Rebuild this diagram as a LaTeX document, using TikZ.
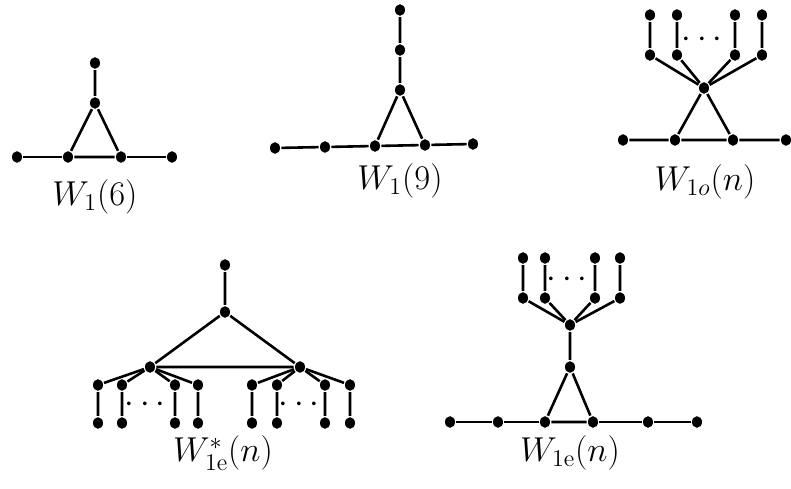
\documentclass[tikz,border=0pt]{standalone}
\usepackage{amsmath,amssymb}
\usetikzlibrary{positioning,calc}

\tikzset{
  vtx/.style={ellipse,fill=black,inner sep=0pt,minimum width=5pt,minimum height=5.8pt},
  lbl/.style={font=\fontsize{16.5}{19}\selectfont},
}
\usetikzlibrary{shapes.geometric}

\begin{document}
\begin{tikzpicture}[x=0.5pt,y=-0.5pt,line width=1.3pt]
    \useasboundingbox (0,0) rectangle (791,488);

    % W_1(6)
    \node[vtx] (a1) at (95,63) {};
    \node[vtx] (a2) at (95,103) {};
    \foreach \i/\x in {3/17,4/68,5/121,6/172}
        \node[vtx] (a\i) at (\x,157) {};
    \draw (a1) -- (a2) -- (a4) -- (a5) -- (a2);
    \draw (a3) -- (a4) (a5) -- (a6);
    \node[lbl] (la) at (95,197) {$W_1(6)$};

    % W_1(9)
    \foreach \i/\y in {1/10,2/50,3/90}
        \node[vtx] (b\i) at (400,\y) {};
    \foreach \i/\x/\y in {4/275/148,5/325/147,6/375/146,7/425/145,8/473/144}
        \node[vtx] (b\i) at (\x,\y) {};
    \draw (b1) -- (b2) -- (b3) -- (b6) -- (b7) -- (b3);
    \draw (b4) -- (b5) -- (b6) (b7) -- (b8);
    \node[lbl] (lb) at (400,181) {$W_1(9)$};

    % W_{1o}(n)
    \node[vtx] (ch) at (704,88) {};
    \foreach \i/\x in {1/650,2/677,3/735,4/762} {
        \node[vtx] (ct\i) at (\x,15) {};
        \node[vtx] (cm\i) at (\x,55) {};
        \draw (ct\i) -- (cm\i) -- (ch);
    }
    \foreach \i/\x in {1/623,2/675,3/733,4/786}
        \node[vtx] (cb\i) at (\x,140) {};
    \draw (cb1) -- (cb2) -- (ch) -- (cb3) -- (cb2) (cb3) -- (cb4);
    \node[lbl] (cd) at (705,40) {$\cdots$};
    \node[lbl] (lc) at (705,182) {$W_{1o}(n)$};

    % W^*_{1e}(n)
    \node[vtx] (d1) at (225,265) {};
    \node[vtx] (d2) at (225,312) {};
    \node[vtx] (dl) at (150,367) {};
    \node[vtx] (dr) at (300,367) {};
    \draw (d1) -- (d2) -- (dl) -- (dr) -- (d2);
    \foreach \i/\x in {1/98,2/122,3/175,4/198} {
        \node[vtx] (dlt\i) at (\x,385) {};
        \node[vtx] (dlb\i) at (\x,423) {};
        \draw (dl) -- (dlt\i) -- (dlb\i);
    }
    \foreach \i/\x in {1/252,2/277,3/325,4/350} {
        \node[vtx] (drt\i) at (\x,385) {};
        \node[vtx] (drb\i) at (\x,423) {};
        \draw (dr) -- (drt\i) -- (drb\i);
    }
    \node[lbl] (ddl) at (148,405) {$\cdots$};
    \node[lbl] (ddr) at (302,405) {$\cdots$};
    \node[lbl] (ld) at (223,453) {$W^*_{1\mathrm{e}}(n)$};

    % W_{1e}(n)
    \node[vtx] (eh) at (570,325) {};
    \node[vtx] (e2) at (570,367) {};
    \foreach \i/\x in {1/523,2/545,3/595,4/620} {
        \node[vtx] (et\i) at (\x,258) {};
        \node[vtx] (em\i) at (\x,298) {};
        \draw (et\i) -- (em\i) -- (eh);
    }
    \foreach \i/\x in {1/450,2/498,3/545,4/593,5/648,6/697}
        \node[vtx] (eb\i) at (\x,422) {};
    \draw (eh) -- (e2) -- (eb3) -- (eb4) -- (e2);
    \draw (eb1) -- (eb2) -- (eb3) (eb4) -- (eb5) -- (eb6);
    \node[lbl] (ed) at (570,280) {$\cdots$};
    \node[lbl] (le) at (570,453) {$W_{1\mathrm{e}}(n)$};
\end{tikzpicture}
\end{document}
